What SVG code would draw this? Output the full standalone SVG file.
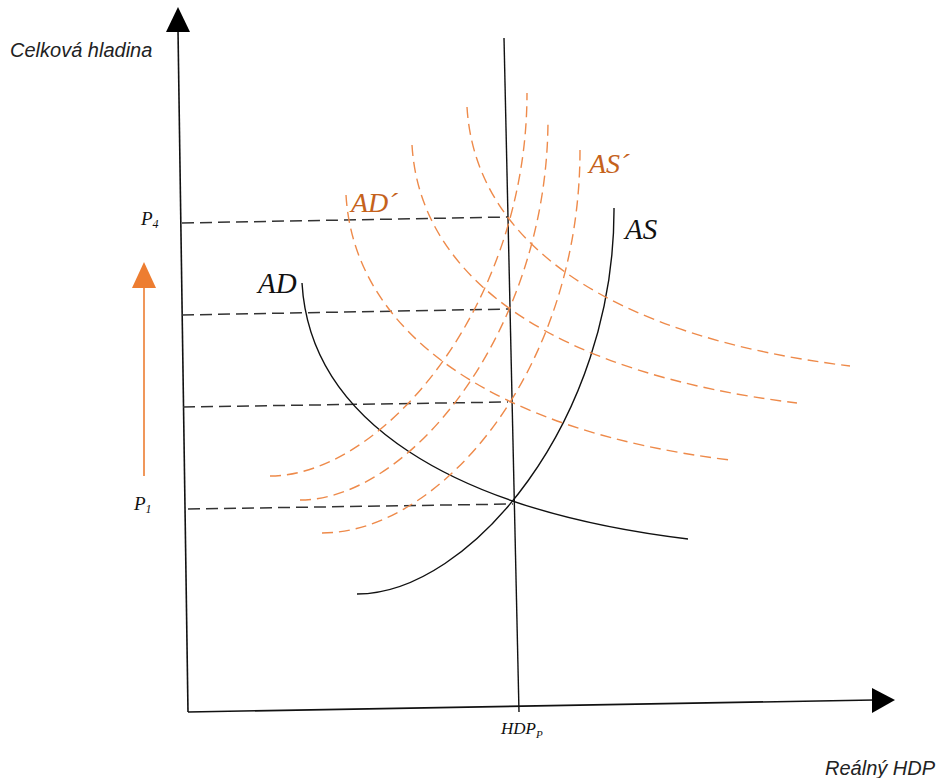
<svg xmlns="http://www.w3.org/2000/svg" width="939" height="778" viewBox="0 0 939 778">
<style>
.axis{stroke:#111;stroke-width:1.6;fill:none}
.curve{stroke:#111;stroke-width:1.4;fill:none}
.guide{stroke:#333;stroke-width:1.5;stroke-dasharray:12 6;fill:none}
.ocurve{stroke:#EE8A4A;stroke-width:1.4;stroke-dasharray:11 6;fill:none}
.lbl{font-family:"Liberation Sans",Arial,sans-serif;font-style:italic;font-size:20px;fill:#222}
.math{font-family:"Liberation Serif","Times New Roman",serif;font-style:italic;fill:#111}
.omath{font-family:"Liberation Serif","Times New Roman",serif;font-style:italic;fill:#C5621C}
</style>
<rect width="939" height="778" fill="#fff"/>
<g id="axes">
<line class="axis" x1="188" y1="712" x2="178" y2="30"/>
<polygon points="166,32 190,32 178,7" fill="#000"/>
<line class="axis" x1="188" y1="712" x2="874" y2="700"/>
<polygon points="872,688 872,713 895,700" fill="#000"/>
<text class="lbl" x="10" y="57">Celková hladina</text>
<text class="lbl" x="825" y="775">Reálný HDP</text>
</g>
<g id="connectors">
<line class="guide" x1="182" y1="223" x2="508" y2="217"/>
<line class="guide" x1="182" y1="315" x2="510" y2="309"/>
<line class="guide" x1="183" y1="407" x2="508" y2="402"/>
<line class="guide" x1="188" y1="509" x2="513" y2="504"/>
</g>
<g id="hdp-line">
<line class="curve" x1="504" y1="38" x2="519" y2="712"/>
<text class="math" x="501" y="734" font-size="17">HDP<tspan font-size="11" dy="4">P</tspan></text>
</g>
<g id="price-labels">
<text class="math" x="141" y="225" font-size="19">P<tspan font-size="12" dy="3">4</tspan></text>
<text class="math" x="134" y="510" font-size="19">P<tspan font-size="12" dy="3">1</tspan></text>
</g>
<g id="price-arrow">
<line x1="144" y1="476" x2="144" y2="285" stroke="#ED7D31" stroke-width="1.6"/>
<polygon points="132,288 156,288 144,262" fill="#ED7D31"/>
</g>
<g id="AD">
<path class="curve" d="M302,283 C310,420 450,510 688,539"/>
<text class="math" x="258" y="293" font-size="29">AD</text>
</g>
<g id="AS">
<path class="curve" d="M357,594 C470,594 615,420 614,208"/>
<text class="math" x="625" y="239" font-size="29">AS</text>
</g>
<g id="AD-shifted">
<path class="ocurve" d="M346,195 C354,332 492,431 730,460"/>
<path class="ocurve" d="M412,145 C420,282 559,374 797,403"/>
<path class="ocurve" d="M467,107 C475,244 612,337 850,366"/>
<text class="omath" x="351" y="212" font-size="28">AD´</text>
</g>
<g id="AS-shifted">
<path class="ocurve" d="M270,476 C383,476 527,305 527,93"/>
<path class="ocurve" d="M300,500 C410,500 548,330 548,119"/>
<path class="ocurve" d="M322,533 C440,533 580,370 580,150"/>
<text class="omath" x="589" y="173" font-size="28">AS´</text>
</g>
</svg>
